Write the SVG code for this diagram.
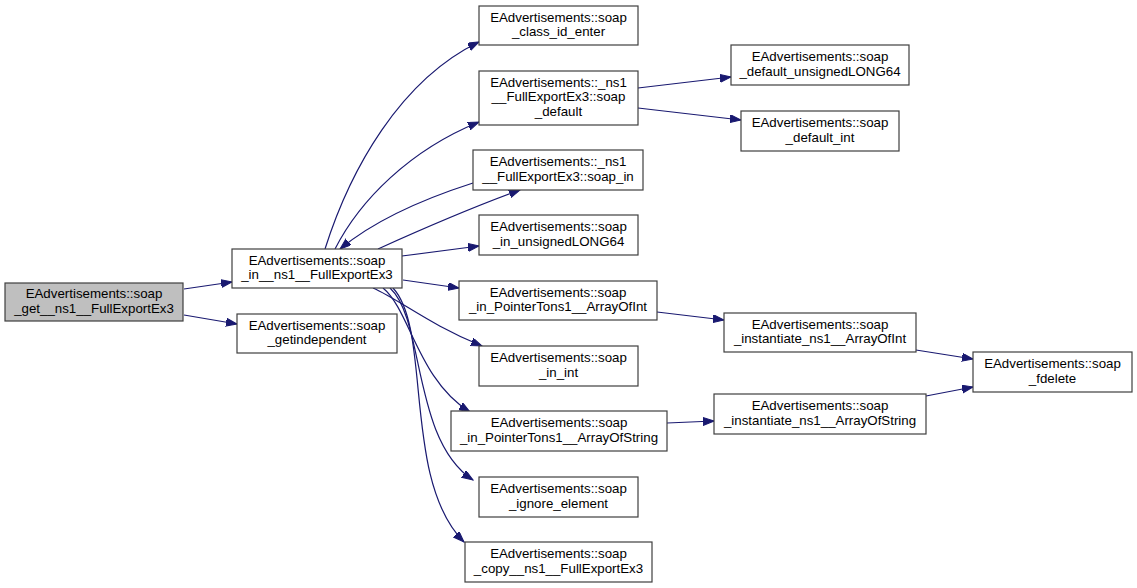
<svg xmlns="http://www.w3.org/2000/svg" width="1137" height="588" viewBox="0 0 1137 588">
<defs>
<marker id="ah" markerUnits="userSpaceOnUse" markerWidth="12" markerHeight="9" refX="11" refY="4" orient="auto">
<path d="M0,0 L11,4 L0,8 z" fill="#191970" stroke="#191970" stroke-width="1"/>
</marker>
<style>
.n rect{fill:#ffffff;stroke:#3f3f3f;stroke-width:1.2}
.n.root rect{fill:#bfbfbf}
.n text{font-family:"Liberation Sans",Arial,sans-serif;font-size:13.3px;fill:#000000;text-anchor:middle}
#edges path{fill:none;stroke:#191970;stroke-width:1.2;marker-end:url(#ah)}
</style>
</defs>
<rect width="1137" height="588" fill="#ffffff"/>
<g id="edges">
<path d="M184,289 L232,282"/>
<path d="M184,315 L237,324"/>
<path d="M325,249 C350,170 400,80 479,42"/>
<path d="M335,249 C360,200 410,150 479,122"/>
<path d="M473,183 C420,200 375,220 340,249"/>
<path d="M378,249 C420,230 465,210 520,190"/>
<path d="M402,256 L479,246"/>
<path d="M403,280 L459,288"/>
<path d="M373,288 C400,300 430,325 482,346"/>
<path d="M383,288 C410,310 418,380 470,412"/>
<path d="M390,288 C425,320 412,440 473,480"/>
<path d="M393,288 C432,330 402,480 464,542"/>
<path d="M638,88 L731,77"/>
<path d="M638,108 L741,120"/>
<path d="M657,312 L724,320"/>
<path d="M667,423 L714,421"/>
<path d="M916,350 L973,359"/>
<path d="M926,396 L973,387"/>
</g>
<g id="n_root" class="n root"><rect x="5" y="283" width="178" height="38"/><text x="94" y="298">EAdvertisements::soap</text><text x="94" y="312.5">_get__ns1__FullExportEx3</text></g>
<g id="n_soap_in_ns1" class="n"><rect x="232" y="249" width="170" height="39"/><text x="317" y="264.5">EAdvertisements::soap</text><text x="317" y="279">_in__ns1__FullExportEx3</text></g>
<g id="n_getindependent" class="n"><rect x="237" y="314" width="160" height="39"/><text x="317" y="329.5">EAdvertisements::soap</text><text x="317" y="344">_getindependent</text></g>
<g id="n_class_id_enter" class="n"><rect x="479" y="6" width="159" height="39"/><text x="558.5" y="21.5">EAdvertisements::soap</text><text x="558.5" y="36">_class_id_enter</text></g>
<g id="n_soap_default" class="n"><rect x="479" y="71" width="159" height="54"/><text x="558.5" y="86.5">EAdvertisements::_ns1</text><text x="558.5" y="101">__FullExportEx3::soap</text><text x="558.5" y="115.5">_default</text></g>
<g id="n_soap_in_cls" class="n"><rect x="473" y="150" width="170" height="40"/><text x="558" y="166">EAdvertisements::_ns1</text><text x="558" y="180.5">__FullExportEx3::soap_in</text></g>
<g id="n_in_unsignedLONG64" class="n"><rect x="479" y="215" width="159" height="40"/><text x="558.5" y="231">EAdvertisements::soap</text><text x="558.5" y="245.5">_in_unsignedLONG64</text></g>
<g id="n_in_ptr_int" class="n"><rect x="459" y="281" width="198" height="39"/><text x="558" y="296.5">EAdvertisements::soap</text><text x="558" y="311">_in_PointerTons1__ArrayOfInt</text></g>
<g id="n_in_int" class="n"><rect x="479" y="346" width="159" height="40"/><text x="558.5" y="362">EAdvertisements::soap</text><text x="558.5" y="376.5">_in_int</text></g>
<g id="n_in_ptr_str" class="n"><rect x="451" y="411" width="216" height="40"/><text x="559" y="427">EAdvertisements::soap</text><text x="559" y="441.5">_in_PointerTons1__ArrayOfString</text></g>
<g id="n_ignore_element" class="n"><rect x="479" y="477" width="159" height="40"/><text x="558.5" y="493">EAdvertisements::soap</text><text x="558.5" y="507.5">_ignore_element</text></g>
<g id="n_copy" class="n"><rect x="465" y="542" width="187" height="40"/><text x="558.5" y="558">EAdvertisements::soap</text><text x="558.5" y="572.5">_copy__ns1__FullExportEx3</text></g>
<g id="n_default_unsignedLONG64" class="n"><rect x="731" y="45" width="178" height="40"/><text x="820" y="61">EAdvertisements::soap</text><text x="820" y="75.5">_default_unsignedLONG64</text></g>
<g id="n_default_int" class="n"><rect x="741" y="111" width="158" height="40"/><text x="820" y="127">EAdvertisements::soap</text><text x="820" y="141.5">_default_int</text></g>
<g id="n_inst_int" class="n"><rect x="724" y="313" width="192" height="39"/><text x="820" y="328.5">EAdvertisements::soap</text><text x="820" y="343">_instantiate_ns1__ArrayOfInt</text></g>
<g id="n_fdelete" class="n"><rect x="973" y="352" width="159" height="40"/><text x="1052.5" y="368">EAdvertisements::soap</text><text x="1052.5" y="382.5">_fdelete</text></g>
<g id="n_inst_str" class="n"><rect x="714" y="394" width="212" height="40"/><text x="820" y="410">EAdvertisements::soap</text><text x="820" y="424.5">_instantiate_ns1__ArrayOfString</text></g>
</svg>
